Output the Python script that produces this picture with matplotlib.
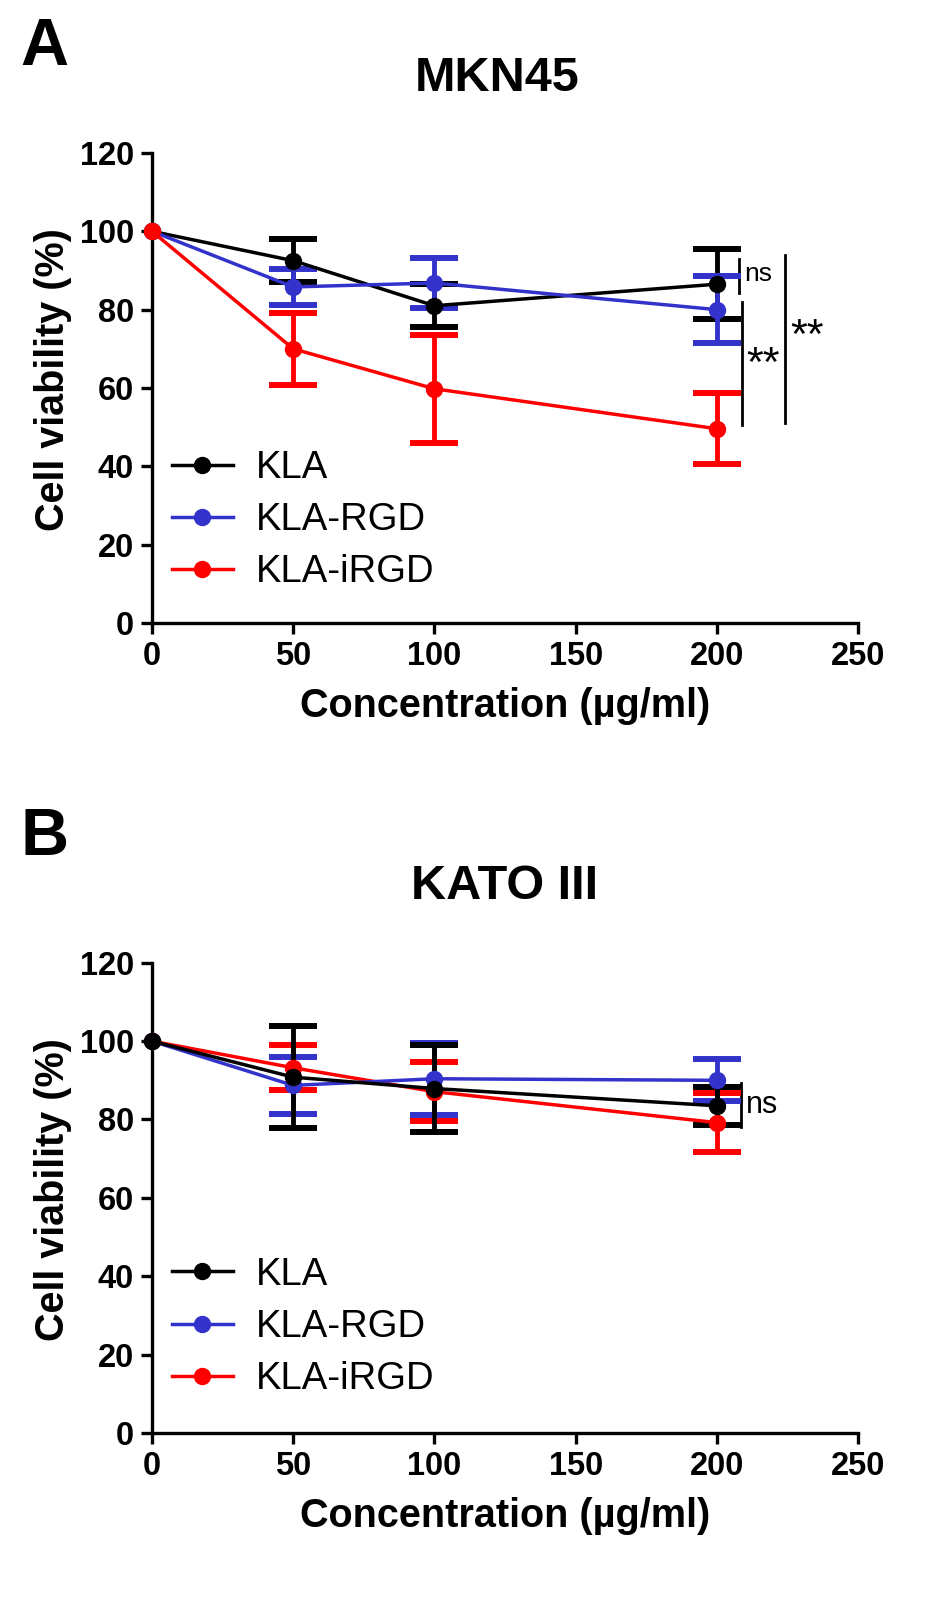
import matplotlib
matplotlib.use("Agg")
import matplotlib.pyplot as plt
from matplotlib.lines import Line2D

plt.rcParams['font.family'] = ['Liberation Sans', 'DejaVu Sans']

conc = [0, 50, 100, 200]
series_names = ["KLA", "KLA-RGD", "KLA-iRGD"]
colors = {"KLA": "#000000", "KLA-RGD": "#3333cc", "KLA-iRGD": "#ff0000"}

# Panel A: MKN45
mkn_kla = [100, 92.5, 81.0, 86.5]
mkn_kla_sd = [0, 5.5, 5.5, 9.0]
mkn_rgd = [100, 85.8, 86.8, 80.0]
mkn_rgd_sd = [0, 4.5, 6.3, 8.6]
mkn_irgd = [100, 70.0, 59.8, 49.6]
mkn_irgd_sd = [0, 9.2, 13.8, 9.0]

# Panel B: KATO III
kato_kla = [100, 90.8, 87.9, 83.5]
kato_kla_sd = [0, 13.0, 11.0, 4.8]
kato_rgd = [100, 88.7, 90.4, 90.0]
kato_rgd_sd = [0, 7.3, 9.2, 5.4]
kato_irgd = [100, 93.2, 87.1, 79.2]
kato_irgd_sd = [0, 5.8, 7.5, 7.5]

xticks = [0, 50, 100, 150, 200, 250]
yticks = [0, 20, 40, 60, 80, 100, 120]

fig = plt.figure(figsize=(9.44, 16.1), dpi=100)

def draw_panel(ax, data, order, legend_y):
    for name in order:
        vals, sd = data[name]
        c = colors[name]
        ax.errorbar(conc, vals, yerr=sd, color=c, lw=2.5, marker='o',
                    markersize=11.5, capsize=17, capthick=4.3, elinewidth=3.5,
                    errorevery=(1, 1), clip_on=False, zorder=3)
    ax.set_xlim(0, 250)
    ax.set_ylim(0, 120)
    ax.set_xticks(xticks)
    ax.set_yticks(yticks)
    for s in ['top', 'right']:
        ax.spines[s].set_visible(False)
    for s in ['left', 'bottom']:
        ax.spines[s].set_linewidth(2.4)
    ax.tick_params(axis='both', width=2.4, length=8, labelsize=23.5, pad=5)
    for lbl in ax.get_xticklabels() + ax.get_yticklabels():
        lbl.set_fontweight('bold')
    ax.set_xlabel("Concentration (µg/ml)", fontsize=28.5, fontweight='bold', labelpad=11)
    ax.set_ylabel("Cell viability (%)", fontsize=28.5, fontweight='bold')
    ax.yaxis.set_label_coords(-0.113, 0.517)
    leg_handles = [Line2D([0], [0], color=colors[n], lw=2.5, marker='o', markersize=11.5)
                   for n in series_names]
    ax.legend(leg_handles, series_names, loc='center left',
              bbox_to_anchor=(0.028, legend_y), frameon=False, fontsize=27.5,
              handlelength=1.6, handletextpad=0.6, labelspacing=0.42,
              borderpad=0, borderaxespad=0)

axA = fig.add_axes([0.161, 0.613, 0.748, 0.292])
dataA = {"KLA": (mkn_kla, mkn_kla_sd), "KLA-RGD": (mkn_rgd, mkn_rgd_sd),
         "KLA-iRGD": (mkn_irgd, mkn_irgd_sd)}
draw_panel(axA, dataA, ["KLA", "KLA-RGD", "KLA-iRGD"], 0.219)
# significance marks A
axA.plot([208.0, 208.0], [84.3, 93.0], color='black', lw=2, clip_on=False)
axA.text(209.8, 89.0, "ns", fontsize=19, va='center', ha='left')
axA.plot([208.8, 208.8], [50.5, 82.0], color='black', lw=2, clip_on=False)
axA.text(210.3, 66.0, "**", fontsize=31, va='center', ha='left')
axA.plot([224.0, 224.0], [51.0, 94.0], color='black', lw=2, clip_on=False)
axA.text(226.0, 73.0, "**", fontsize=31, va='center', ha='left')

axB = fig.add_axes([0.161, 0.110, 0.748, 0.292])
dataB = {"KLA": (kato_kla, kato_kla_sd), "KLA-RGD": (kato_rgd, kato_rgd_sd),
         "KLA-iRGD": (kato_irgd, kato_irgd_sd)}
draw_panel(axB, dataB, ["KLA-iRGD", "KLA-RGD", "KLA"], 0.2255)
axB.plot([208.6, 208.6], [78.0, 89.2], color='black', lw=2, clip_on=False)
axB.text(210.2, 83.8, "ns", fontsize=22, va='center', ha='left')

fig.text(0.022, 0.970, "A", fontsize=48, fontweight='bold', ha='left', va='center')
fig.text(0.022, 0.4795, "B", fontsize=48, fontweight='bold', ha='left', va='center')
fig.text(0.527, 0.951, "MKN45", fontsize=35, fontweight='bold', ha='center', va='center')
fig.text(0.535, 0.4495, "KATO III", fontsize=35, fontweight='bold', ha='center', va='center')

fig.savefig("out.png", dpi=100)
